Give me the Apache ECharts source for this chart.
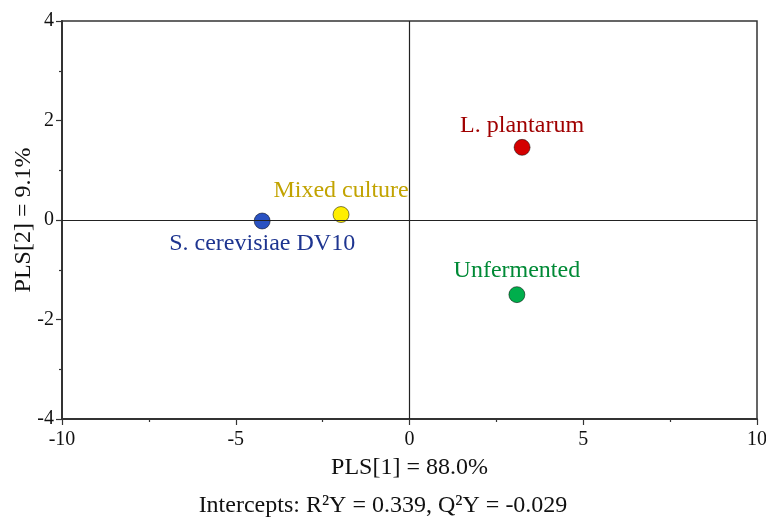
<!DOCTYPE html>
<html>
<head>
<meta charset="utf-8">
<script src="https://cdn.jsdelivr.net/npm/echarts@6/dist/echarts.min.js"></script>
<style>
  html, body { margin: 0; padding: 0; background: #fff; }
  #chart { width: 766px; height: 522px; }
</style>
</head>
<body>
<div id="chart"></div>
<script>
// PLS score plot: sample groups on the first two components
const groups = ['S. cerevisiae DV10', 'Mixed culture', 'L. plantarum', 'Unfermented'];
const pls1 = [-4.24, -1.97, 3.24, 3.09];
const pls2 = [-0.02, 0.11, 1.46, -1.50];
const dotColors = ['#2a52c2', '#ffee00', '#d40000', '#00ae4c'];
const labelColors = ['#1e3590', '#c2a300', '#a00000', '#008a36'];
const labelOffsets = [[0, 23], [0, -24], [0, -22], [0, -24]];
const xTicks = { min: -10, max: 10, interval: 5 };
const yTicks = { min: -4, max: 4, interval: 2 };
const xTitle = 'PLS[1] = 88.0%';
const yTitle = 'PLS[2] = 9.1%';
const footnote = 'Intercepts: R\u00b2Y = 0.339, Q\u00b2Y = -0.029';

const serif = '"Liberation Serif", "Times New Roman", serif';
const chart = echarts.init(document.getElementById('chart'));

const axisCommon = {
  axisLine: { show: true, onZero: false, lineStyle: { color: '#333', width: 2 } },
  axisTick: { show: true, inside: false, length: 6, lineStyle: { color: '#333', width: 1.2 } },
  minorTick: { show: true, splitNumber: 2, length: 3, lineStyle: { color: '#333', width: 1.2 } },
  splitLine: { show: false },
  axisLabel: { color: '#111', fontFamily: serif, fontSize: 20 }
};

chart.setOption({
  animation: false,
  grid: {
    left: 62, right: 9, top: 21, bottom: 103,
    containLabel: false, outerBoundsMode: 'none',
    show: true, borderColor: '#333', borderWidth: 1.5
  },
  xAxis: Object.assign({}, axisCommon, {
    type: 'value', min: xTicks.min, max: xTicks.max, interval: xTicks.interval,
    axisLabel: Object.assign({}, axisCommon.axisLabel, { margin: 11 }),
    name: xTitle, nameLocation: 'middle', nameGap: 37, nameMoveOverlap: false,
    nameTextStyle: { color: '#111', fontFamily: serif, fontSize: 24 }
  }),
  yAxis: Object.assign({}, axisCommon, {
    type: 'value', min: yTicks.min, max: yTicks.max, interval: yTicks.interval,
    axisLabel: Object.assign({}, axisCommon.axisLabel, { margin: 8 }),
    name: yTitle, nameLocation: 'middle', nameGap: 26, nameMoveOverlap: false,
    nameTextStyle: { color: '#111', fontFamily: serif, fontSize: 24 }
  }),
  graphic: [{
    type: 'text', left: 'center', top: 494,
    style: { text: footnote, fill: '#111', font: '24px ' + serif }
  }],
  series: [{
    type: 'scatter',
    symbolSize: 16,
    data: groups.map((g, i) => ({
      name: g,
      value: [pls1[i], pls2[i]],
      itemStyle: { color: dotColors[i], opacity: 1, borderColor: 'rgba(0,0,0,0.5)', borderWidth: 1 },
      label: {
        show: true, formatter: g, position: 'inside', offset: labelOffsets[i],
        color: labelColors[i], fontFamily: serif, fontSize: 24
      }
    })),
    markLine: {
      silent: true, symbol: 'none', label: { show: false },
      lineStyle: { color: '#222', width: 1.2, type: 'solid', opacity: 1 },
      data: [{ xAxis: 0 }, { yAxis: 0 }]
    },
    z: 3
  }]
});
</script>
</body>
</html>
